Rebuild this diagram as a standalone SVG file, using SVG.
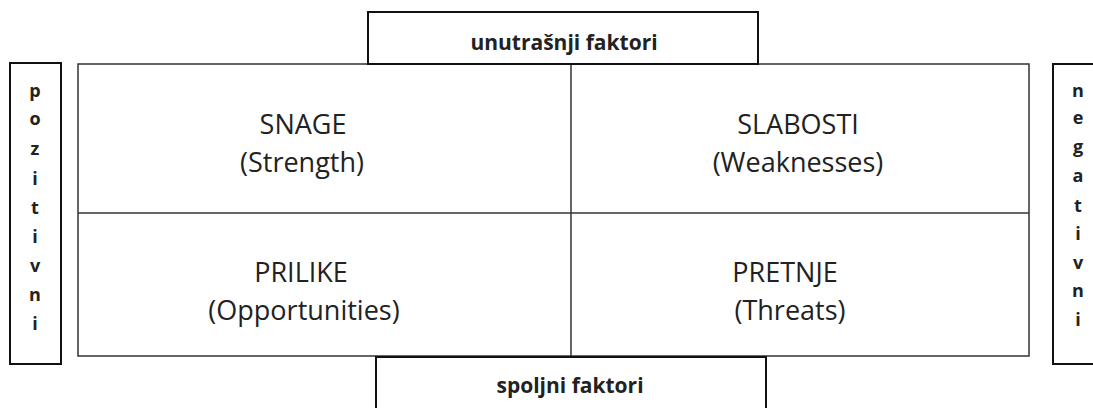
<svg xmlns="http://www.w3.org/2000/svg" width="1093" height="408" viewBox="0 0 1093 408">
  <style>
    .box { fill: #fff; stroke: #111; stroke-width: 2; }
    .grid { fill: none; stroke: #333; stroke-width: 1.5; }
    .hdr { font-family: "Open Sans", "Liberation Sans", sans-serif; font-weight: bold; font-size: 21px; fill: #222; text-anchor: middle; }
    .side { font-family: "Open Sans", "Liberation Sans", sans-serif; font-weight: bold; font-size: 18px; fill: #222; text-anchor: middle; }
    .quad { font-family: "Open Sans", "Liberation Sans", sans-serif; font-size: 27px; fill: #222; text-anchor: middle; }
  </style>
  <rect width="1093" height="408" fill="#fff"/>

  <!-- SWOT grid -->
  <g id="connectors">
    <rect class="grid" x="78" y="64" width="951" height="292"/>
    <line class="grid" x1="571" y1="64" x2="571" y2="356"/>
    <line class="grid" x1="78" y1="213" x2="1029" y2="213"/>
  </g>

  <g id="snage">
    <text class="quad" x="303" y="134">SNAGE</text>
    <text class="quad" x="302" y="172">(Strength)</text>
  </g>
  <g id="slabosti">
    <text class="quad" x="798" y="134">SLABOSTI</text>
    <text class="quad" x="798" y="172">(Weaknesses)</text>
  </g>
  <g id="prilike">
    <text class="quad" x="301" y="282">PRILIKE</text>
    <text class="quad" x="304" y="320">(Opportunities)</text>
  </g>
  <g id="pretnje">
    <text class="quad" x="785" y="282">PRETNJE</text>
    <text class="quad" x="790" y="320">(Threats)</text>
  </g>

  <g id="unutrasnji">
    <rect class="box" x="368" y="12" width="390" height="52"/>
    <text class="hdr" x="564" y="50">unutrašnji faktori</text>
  </g>
  <g id="spoljni">
    <rect class="box" x="376" y="357" width="390" height="60"/>
    <text class="hdr" x="570" y="393">spoljni faktori</text>
  </g>

  <g id="pozitivni">
    <rect class="box" x="10" y="63" width="51" height="301"/>
    <text class="side" x="35" y="97">p</text>
    <text class="side" x="35" y="125">o</text>
    <text class="side" x="35" y="155">z</text>
    <text class="side" x="35" y="185">i</text>
    <text class="side" x="35" y="214">t</text>
    <text class="side" x="35" y="243">i</text>
    <text class="side" x="35" y="272">v</text>
    <text class="side" x="35" y="301">n</text>
    <text class="side" x="35" y="330">i</text>
  </g>
  <g id="negativni">
    <rect class="box" x="1053" y="64" width="50" height="300"/>
    <text class="side" x="1078" y="97">n</text>
    <text class="side" x="1078" y="124">e</text>
    <text class="side" x="1078" y="153">g</text>
    <text class="side" x="1078" y="182">a</text>
    <text class="side" x="1078" y="212">t</text>
    <text class="side" x="1078" y="240">i</text>
    <text class="side" x="1078" y="269">v</text>
    <text class="side" x="1078" y="297">n</text>
    <text class="side" x="1078" y="326">i</text>
  </g>
</svg>
